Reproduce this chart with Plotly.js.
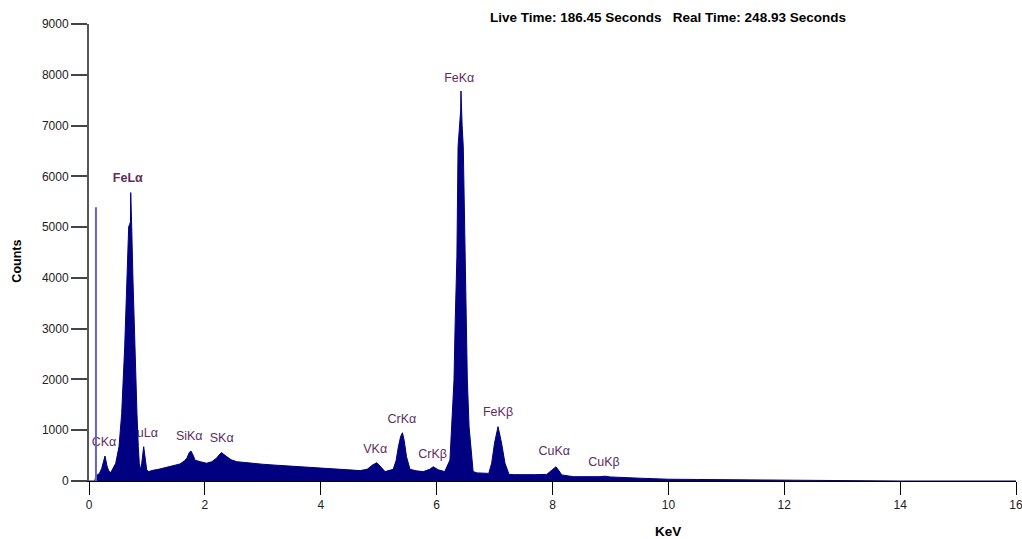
<!DOCTYPE html>
<html><head><meta charset="utf-8">
<script src="https://cdn.plot.ly/plotly-3.0.1.min.js"></script>
<style>html,body{margin:0;padding:0;background:#fff}#chart{width:1022px;height:539px}</style>
</head><body><div id="chart"></div>
<script>
// Spectrum (keV, counts)
const energy = [0.00,0.10,0.12,0.14,0.18,0.22,0.25,0.276,0.31,0.34,0.375,0.42,0.461,0.518,0.564,0.616,0.656,0.685,0.70,0.715,0.72,0.725,0.737,0.759,0.789,0.828,0.851,0.868,0.89,0.91,0.944,0.975,0.996,1.03,1.10,1.20,1.28,1.40,1.50,1.57,1.65,1.69,1.73,1.76,1.80,1.83,1.92,2.03,2.12,2.20,2.26,2.29,2.33,2.38,2.45,2.55,2.70,2.84,3.00,3.18,3.40,3.60,3.80,4.00,4.20,4.33,4.50,4.68,4.80,4.90,4.97,5.04,5.11,5.25,5.30,5.34,5.38,5.41,5.44,5.48,5.54,5.65,5.77,5.88,5.94,6.03,6.14,6.23,6.26,6.30,6.32,6.35,6.37,6.40,6.415,6.42,6.425,6.44,6.46,6.49,6.51,6.53,6.56,6.61,6.63,6.70,6.81,6.90,6.95,7.00,7.06,7.12,7.18,7.25,7.35,7.50,7.70,7.90,7.98,8.04,8.06,8.10,8.16,8.36,8.60,8.82,8.90,9.00,9.51,10.0,10.5,11.0,11.5,12.0,12.5,13.0,13.5,13.94,14.0,16.0];
const counts = [0,0,100,120,150,250,400,492,300,200,165,250,348,675,1326,2644,3958,5007,5050,5100,5680,5100,5007,3958,2644,1326,675,348,220,348,675,348,220,185,210,230,250,290,310,335,400,450,560,590,500,410,380,350,380,450,530,560,520,480,420,380,360,350,330,315,300,285,270,255,240,230,215,205,230,320,360,280,185,230,400,675,880,950,800,480,230,200,185,230,280,220,185,413,1070,1990,3110,4416,6582,7200,7300,7680,7300,7000,6582,4416,3110,1990,1070,413,185,160,160,150,350,750,1070,750,350,130,125,120,125,130,200,270,280,220,120,85,80,85,95,80,55,35,30,25,22,20,15,12,8,5,0,0];

// Zero-energy strobe spike
const spikeEnergy = [0.12, 0.12];
const spikeCounts = [0, 5390];

// Peak labels
const peakNames = ["CKα","<b>FeLα</b>","CuLα","SiKα","SKα","VKα","CrKα","CrKβ","FeKα","FeKβ","CuKα","CuKβ"];
const peakEnergy = [0.26,0.67,0.93,1.73,2.29,4.94,5.40,5.93,6.39,7.06,8.03,8.89];
const peakLabelY = [748,5946,925,866,827,610,1201,512,7917,1339,571,354];

const xTicks = [0,2,4,6,8,10,12,14,16];
const yTicks = [0,1000,2000,3000,4000,5000,6000,7000,8000,9000];

const FONT = "Arial, 'Liberation Sans', sans-serif";

const data = [
  {x: peakEnergy, y: peakLabelY, text: peakNames, mode: 'text', type: 'scatter',
   textposition: 'middle center', textfont: {family: FONT, size: 12.5, color: '#5e2c60'},
   hoverinfo: 'skip', showlegend: false, cliponaxis: false},
  {x: energy, y: counts, type: 'scatter', mode: 'lines', fill: 'tozeroy',
   fillcolor: '#000080', line: {color: '#000080', width: 1}, hoverinfo: 'skip', showlegend: false},
  {x: spikeEnergy, y: spikeCounts, type: 'scatter', mode: 'lines',
   line: {color: '#6464c8', width: 2}, hoverinfo: 'skip', showlegend: false}
];

const layout = {
  width: 1022, height: 539,
  margin: {l: 89, r: 6, t: 24, b: 58},
  paper_bgcolor: '#ffffff', plot_bgcolor: '#ffffff',
  showlegend: false,
  font: {family: FONT, size: 12, color: '#222'},
  xaxis: {range: [0, 16], tickvals: xTicks, ticktext: xTicks.map(String),
    ticks: 'outside', ticklen: 13, tickwidth: 1, tickcolor: '#000',
    showline: true, linecolor: '#000', linewidth: 1, showgrid: false, zeroline: false,
    ticklabeloverflow: 'allow',
    tickfont: {family: FONT, size: 12, color: '#222'}, fixedrange: true},
  yaxis: {range: [0, 9000], tickvals: yTicks, ticktext: yTicks.map(String),
    ticks: 'outside', ticklen: 16, tickwidth: 2, tickcolor: '#444',
    showline: true, linecolor: '#555', linewidth: 2, showgrid: false, zeroline: false,
    tickfont: {family: FONT, size: 12, color: '#222'}, fixedrange: true},
  annotations: [
    {text: '<b>Live Time: 186.45 Seconds   Real Time: 248.93 Seconds</b>', xref: 'x', yref: 'paper',
     x: 10.0, y: 1, yshift: -3, yanchor: 'bottom', xanchor: 'center', showarrow: false,
     font: {family: FONT, size: 13.5, color: '#000'}},
    {text: '<b>KeV</b>', xref: 'x', yref: 'paper', x: 10.0, y: 0, yshift: -41, yanchor: 'top',
     xanchor: 'center', showarrow: false, font: {family: FONT, size: 13.5, color: '#000'}},
    {text: '<b>Counts</b>', xref: 'paper', yref: 'paper', x: 0, xshift: -72, y: 0.48,
     xanchor: 'center', yanchor: 'middle', textangle: -90, showarrow: false,
     font: {family: FONT, size: 12.5, color: '#000'}}
  ]
};

Plotly.newPlot('chart', data, layout, {displayModeBar: false, staticPlot: true});
</script></body></html>
